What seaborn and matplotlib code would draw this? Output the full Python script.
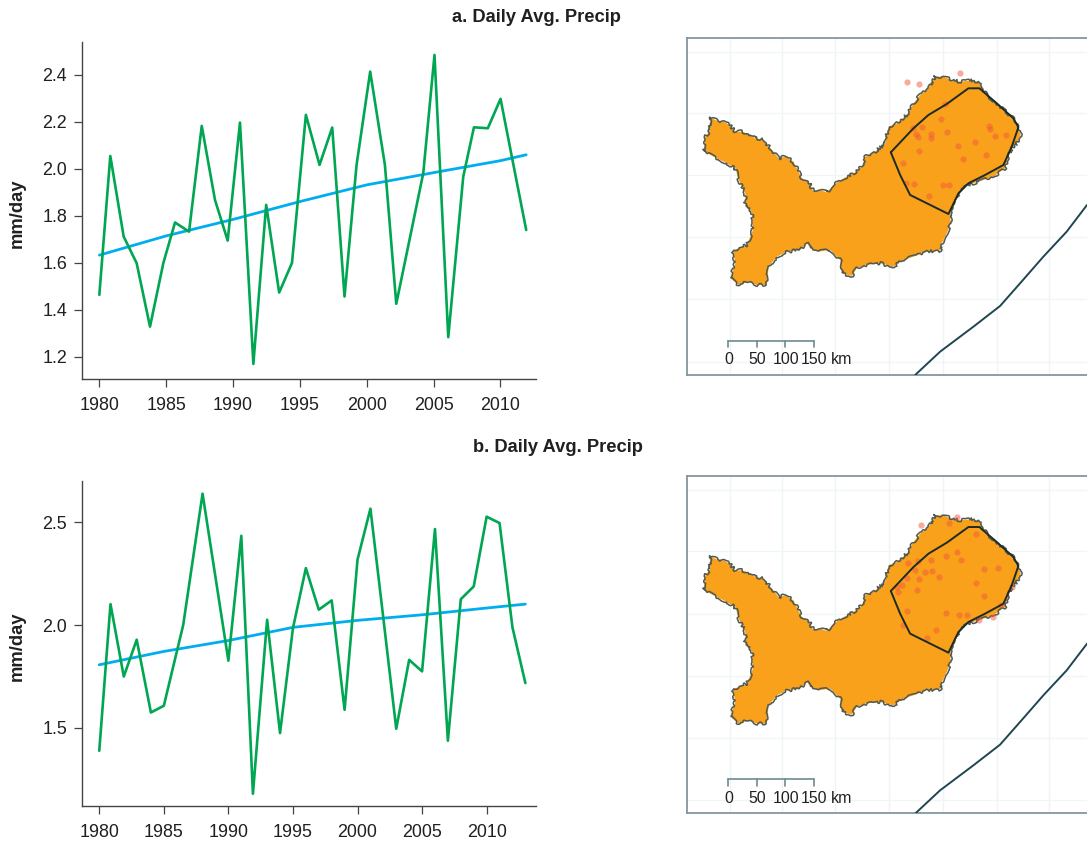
"""
Daily average precip panels: two time series with trend, two basin maps.
"""

import seaborn as sns
import matplotlib.pyplot as plt

# ------------------------------
# DATA
# ------------------------------
years_a = [1980, 1980.82, 1981.82, 1982.79, 1983.79, 1984.79, 1985.66, 1986.71, 1987.66,
           1988.65, 1989.6, 1990.52, 1991.52, 1992.48, 1993.45, 1994.41, 1995.45, 1996.47,
           1997.42, 1998.34, 1999.24, 2000.26, 2001.36, 2002.21, 2003.2, 2004.23, 2005.07,
           2006.1, 2007.22, 2008.02, 2009.06, 2010.01, 2010.93, 2011.93]
precip_a = [1.464, 2.055, 1.712, 1.599, 1.329, 1.60, 1.772, 1.733, 2.183, 1.868, 1.695,
            2.197, 1.17, 1.847, 1.474, 1.60, 2.23, 2.017, 2.176, 1.457, 2.017, 2.414,
            2.017, 1.426, 1.698, 1.982, 2.485, 1.284, 1.967, 2.177, 2.173, 2.298, 2.03, 1.74]
trend_years_a = [1980, 1985, 1990, 1995, 2000, 2005, 2010, 2011.93]
trend_a = [1.633, 1.715, 1.785, 1.861, 1.932, 1.984, 2.035, 2.06]

years_b = [1980, 1980.87, 1981.9, 1982.9, 1984, 1985, 1986.5, 1988, 1990, 1991, 1991.9,
           1993, 1994, 1995, 1996, 1997, 1998, 1999, 2000, 2001, 2002, 2003, 2004, 2005,
           2006, 2007, 2008, 2009, 2010, 2011, 2012, 2013]
precip_b = [1.389, 2.102, 1.75, 1.929, 1.575, 1.608, 2.0, 2.639, 1.827, 2.434, 1.18, 2.026,
            1.475, 1.985, 2.277, 2.075, 2.12, 1.588, 2.318, 2.566, 2.034, 1.496, 1.831,
            1.775, 2.467, 1.438, 2.126, 2.188, 2.527, 2.496, 1.989, 1.718]
trend_years_b = [1980, 1985, 1990, 1995, 2000, 2005, 2010, 2013]
trend_b = [1.807, 1.872, 1.925, 1.989, 2.023, 2.05, 2.083, 2.102]

# basin outline, station polygon, coast (map coordinates)
basin_x = [88, 110, 130, 148, 165, 185, 205, 225, 245, 262, 280, 295, 315, 340, 352, 365, 385,
           400, 420, 440, 460, 490, 520, 545, 555, 585, 615, 625, 650, 680, 700, 720, 745, 765,
           790, 815, 840, 870, 895, 920, 960, 1000, 1015, 1022, 1010, 995, 980, 975, 940, 880,
           862, 835, 825, 810, 812, 800, 785, 780, 740, 700, 670, 640, 600, 555, 530, 515, 485,
           480, 450, 415, 390, 380, 360, 320, 290, 265, 260, 230, 205, 175, 150, 165, 158, 200,
           218, 215, 195, 195, 175, 165, 130, 100, 70, 75, 90]
basin_y = [262, 272, 275, 285, 305, 305, 312, 325, 328, 345, 365, 385, 380, 395, 420, 445, 455,
           485, 480, 487, 465, 445, 430, 410, 380, 365, 340, 290, 280, 255, 220, 195, 175, 140,
           140, 150, 155, 152, 155, 195, 230, 265, 295, 315, 340, 355, 395, 415, 440, 460,
           465, 490, 520, 555, 580, 610, 640, 662, 665, 680, 690, 710, 700, 705, 715, 738, 730,
           690, 660, 665, 655, 640, 660, 665, 680, 710, 765, 765, 755, 765, 745, 700, 662, 645,
           600, 545, 530, 490, 450, 415, 395, 380, 365, 320, 300]
hull_x = [632, 700, 745, 800, 865, 898, 950, 1000, 1015, 995, 970, 915, 865, 835, 805, 690, 660, 632]
hull_y = [367, 295, 255, 222, 175, 175, 220, 265, 292, 350, 405, 435, 460, 490, 552, 495, 435, 367]
coast_x = [705, 780, 880, 960, 1020, 1090, 1160, 1221]
coast_y = [1035, 965, 890, 828, 760, 680, 605, 525]

dots_a_x = [682, 716, 840, 795, 783, 700, 727, 708, 715, 752, 752, 802, 927, 930, 946, 978, 885,
            833, 718, 850, 918, 668, 677, 703, 790, 808, 747]
dots_a_y = [157, 162, 128, 222, 268, 295, 290, 312, 322, 312, 325, 307, 288, 298, 317, 314, 336,
            348, 362, 388, 376, 400, 460, 463, 466, 466, 498]
dots_b_x = [722, 808, 832, 888, 843, 832, 797, 752, 715, 683, 705, 735, 755, 718, 682, 778, 665,
            650, 655, 710, 912, 955, 888, 912, 995, 963, 680, 798, 836, 862, 940, 897, 670, 768, 742]
dots_b_y = [165, 158, 140, 193, 270, 245, 257, 270, 272, 280, 300, 307, 304, 327, 325, 320, 345,
            352, 365, 360, 296, 295, 340, 378, 350, 405, 424, 430, 436, 434, 440, 450, 465, 480, 505]

grid_x = [150, 305, 465, 628, 790, 950, 1108]
grid_y = [65, 248, 435, 622, 808, 995]
scale_ticks = [143, 230, 315, 402]
scale_labels = ["0", "50", "100", "150"]
scale_label_x = [147, 231, 316, 400]

year_ticks = [1980, 1985, 1990, 1995, 2000, 2005, 2010]
yticks_a = [1.2, 1.4, 1.6, 1.8, 2.0, 2.2, 2.4]
yticks_b = [1.5, 2.0, 2.5]

GREEN = "#00A651"
BLUE = "#00AEEF"
TEXT = "#231F20"
ORANGE = "#F9A11B"

sns.set_theme(style="white")
plt.rcParams['font.family'] = ['Liberation Sans', 'DejaVu Sans']

W, H = 1087, 841
fig = plt.figure(figsize=(W / 100, H / 100), dpi=100)


def px_axes(left, top, right, bottom):
    # axes from pixel edges, top-left origin
    return fig.add_axes([left / W, 1 - bottom / H, (right - left) / W, (bottom - top) / H])


def draw_series(ax, years, precip, t_years, trend, xlim, ylim, yticks, fmt):
    sns.lineplot(x=t_years, y=trend, ax=ax, color=BLUE, lw=2.0, errorbar=None, sort=False)
    sns.lineplot(x=years, y=precip, ax=ax, color=GREEN, lw=1.9, errorbar=None, sort=False)
    ax.set_xlim(xlim)
    ax.set_ylim(ylim)
    ax.set_xticks(year_ticks)
    ax.set_yticks(yticks)
    ax.set_yticklabels([fmt % v for v in yticks])
    sns.despine(ax=ax)
    for s in ["left", "bottom"]:
        ax.spines[s].set_color("#444444")
        ax.spines[s].set_linewidth(1.0)
    ax.tick_params(axis="both", length=5.5, width=0.9, color="#444444", labelcolor=TEXT,
                   labelsize=12.9, left=True, bottom=True, pad=5)
    ax.tick_params(axis="x", pad=7.5)
    ax.set_xlabel("")
    ax.set_ylabel("")


def draw_map(ax, dots_x, dots_y, top, bottom, shift):
    ax.set_xlim(20, 1221)
    ax.set_ylim(bottom, top)
    ax.set_xticks([])
    ax.set_yticks([])
    for gx in grid_x:
        ax.axvline(gx, color="#EFF4F6", lw=1.0, zorder=1)
    for gy in grid_y:
        ax.axhline(gy + shift, color="#F1F5F6", lw=1.0, zorder=1)

    by = [v + shift for v in basin_y]
    ax.fill(basin_x, by, color=ORANGE, lw=0, zorder=2)
    edge, = ax.plot(basin_x + basin_x[:1], by + by[:1], color="#4E5A52", lw=1.1, zorder=3)
    edge.set_sketch_params(scale=1.6, length=18, randomness=40)

    sns.scatterplot(x=dots_x, y=dots_y, ax=ax, color="#F2583A", alpha=0.5, s=20,
                    linewidth=0, zorder=4)
    ax.plot(hull_x, [v + shift for v in hull_y], color="#1E2A24", lw=1.4, zorder=5)
    ax.plot(coast_x, [v + shift for v in coast_y], color="#1F4650", lw=1.4, zorder=3)

    # scale bar
    bar_y = 932 + shift
    ax.plot(scale_ticks[:1] + scale_ticks[-1:], [bar_y, bar_y], color="#6E8A92", lw=1.2, zorder=5)
    for t in scale_ticks:
        ax.plot([t, t], [bar_y, bar_y + 20], color="#6E8A92", lw=1.2, zorder=5)
    for lx, lab in zip(scale_label_x, scale_labels):
        ax.text(lx, bar_y + 57, lab, ha="center", va="center", fontsize=11.4, color=TEXT, zorder=6)
    ax.text(485, bar_y + 57, "km", ha="center", va="center", fontsize=11.4, color=TEXT, zorder=6)

    for s in ["left", "top", "bottom"]:
        ax.spines[s].set_visible(True)
        ax.spines[s].set_color("#8496A0")
        ax.spines[s].set_linewidth(1.3)
    ax.spines["right"].set_visible(False)
    ax.set_xlabel("")
    ax.set_ylabel("")


# ------------------------------
# PANEL A
# ------------------------------
ax_a = px_axes(81.7, 42, 535.7, 379)
draw_series(ax_a, years_a, precip_a, trend_years_a, trend_a,
            (1978.68, 2012.64), (1.106, 2.54), yticks_a, "%.1f")
map_a = px_axes(687, 38.3, 1087, 375)
draw_map(map_a, dots_a_x, dots_a_y, 25, 1035, 0)

# ------------------------------
# PANEL B
# ------------------------------
ax_b = px_axes(81.7, 480.7, 535.7, 805.7)
draw_series(ax_b, years_b, precip_b, trend_years_b, trend_b,
            (1978.64, 2013.8), (1.122, 2.702), yticks_b, "%.1f")
map_b = px_axes(687, 475.7, 1087, 813.3)
draw_map(map_b, dots_b_x, dots_b_y, 17, 1030, -4)

# titles and axis labels in figure pixels
fig.text(536 / W, 1 - 17.5 / H, "a. Daily Avg. Precip", ha="center", va="center",
         fontsize=13.2, fontweight="bold", color=TEXT)
fig.text(557.5 / W, 1 - 448 / H, "b. Daily Avg. Precip", ha="center", va="center",
         fontsize=13.2, fontweight="bold", color=TEXT)
fig.text(17 / W, 1 - 213 / H, "mm/day", rotation=90, ha="center", va="center",
         fontsize=13.2, fontweight="bold", color=TEXT)
fig.text(17 / W, 1 - 646 / H, "mm/day", rotation=90, ha="center", va="center",
         fontsize=13.2, fontweight="bold", color=TEXT)

fig.savefig("out.png", dpi=100)
plt.close(fig)
